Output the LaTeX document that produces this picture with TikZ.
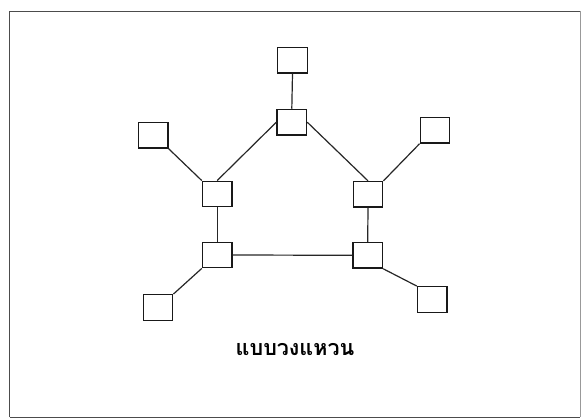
\documentclass[tikz,border=0pt]{standalone}
\usepackage{fontspec}
\newfontfamily\thaifont[Script=Thai]{Loma}
\begin{document}
\begin{tikzpicture}[x=1pt,y=-1pt,
  box/.style={draw=black!90,line width=1.4pt,minimum width=29.5pt,minimum height=25.5pt,inner sep=0pt},
  link/.style={draw=black!85,line width=1.2pt},
  frame/.style={draw=black!70,line width=1.3pt}]
\useasboundingbox (0,0) rectangle (581,419);
\draw[frame] (9.5,11.5) -- (9.5,417.5);
\draw[frame] (9.5,11.5) -- (580.3,11.5);
\draw[frame] (9.5,417.5) -- (580.3,417.5);
\draw[draw=black!40,line width=0.8pt] (580.3,11.5) -- (580.3,417.5);
% ring nodes
\node[box] (t)  at (291.8,122.2) {};
\node[box] (lu) at (217.2,194.0) {};
\node[box] (ru) at (368.0,194.3) {};
\node[box] (ll) at (217.2,255.0) {};
\node[box] (rl) at (367.7,255.3) {};
% outer nodes
\node[box] (ot)  at (292.5,60.3) {};
\node[box] (olu) at (153.2,135.3) {};
\node[box] (oru) at (435.0,130.3) {};
\node[box] (oll) at (158.0,307.5) {};
\node[box] (orl) at (432.2,299.5) {};
% ring connectors
\draw[link] (t.west) -- (lu.north);
\draw[link] (t.east) -- (ru.north);
\draw[link] (lu.south) -- (ll.north);
\draw[link] (ru.south) -- (rl.north);
\draw[link] (ll.east) -- (rl.west);
% spur connectors
\draw[link] (ot.south) -- (t.north);
\draw[link] (olu.south east) -- (lu.north west);
\draw[link] (oru.south west) -- (ru.north east);
\draw[link] (oll.north east) -- (ll.south west);
\draw[link] (orl.north west) -- (rl.south east);
% caption
\node[font=\thaifont\bfseries\fontsize{21.5}{25}\selectfont] (cap) at (295,350) {แบบวงแหวน};
\end{tikzpicture}
\end{document}
